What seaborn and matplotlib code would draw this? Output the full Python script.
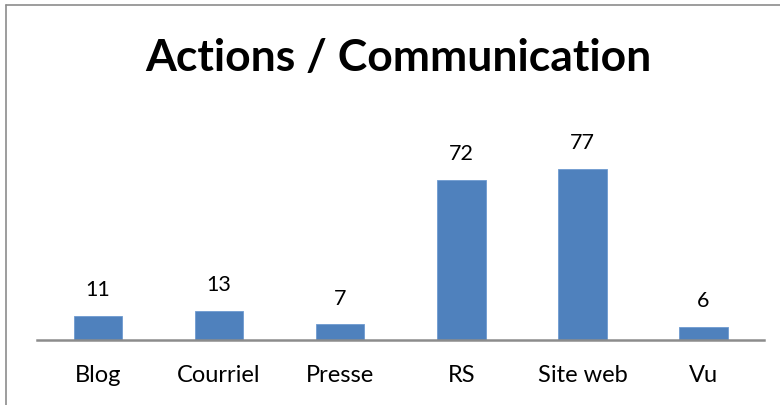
import matplotlib
matplotlib.use("Agg")
import matplotlib.pyplot as plt
from matplotlib.lines import Line2D
import seaborn as sns
import pandas as pd

categories = ["Blog", "Courriel", "Presse", "RS", "Site web", "Vu"]
values = [11, 13, 7, 72, 77, 6]
title = "Actions / Communication"

sns.set_theme(style="white")
plt.rcParams['font.family'] = ['Lato', 'DejaVu Sans']

df = pd.DataFrame({"cat": categories, "val": values})

fig = plt.figure(figsize=(7.8, 4.06), dpi=100)
ax = fig.add_axes([37.5/780, 65/406, (764-37.5)/780, 200/406])
sns.barplot(data=df, x="cat", y="val", ax=ax, color="#4F81BD", width=0.4,
            saturation=1, edgecolor="#6E9BD0", linewidth=0.6)
ax.set_ylim(0, 90)
ax.set_xlim(-0.5, len(categories) - 0.5)
ax.set_xlabel("")
ax.set_ylabel("")
ax.set_yticks([])
for s in ["top", "right", "left"]:
    ax.spines[s].set_visible(False)
ax.spines["bottom"].set_color("#8C8C8C")
ax.spines["bottom"].set_linewidth(1.8)
ax.tick_params(axis="x", length=0, pad=17, labelsize=17, labelcolor="black")

for i, v in enumerate(values):
    ax.annotate(str(v), (i, v), xytext=(0, 12), textcoords="offset points",
                ha="center", va="bottom", fontsize=15.5, color="black")

fig.text(398/780, 1 - 58/406, title, ha="center", va="center",
         fontsize=32, fontweight="bold", color="black")

# chart border (left and top)
fig.add_artist(Line2D([5.5/780, 5.5/780], [0, 1 - 6/406], transform=fig.transFigure,
                      color="#8C8C8C", linewidth=1.2))
fig.add_artist(Line2D([5.5/780, 1], [1 - 6/406, 1 - 6/406], transform=fig.transFigure,
                      color="#8C8C8C", linewidth=1.2))

fig.savefig("out.png", dpi=100, facecolor="white")
